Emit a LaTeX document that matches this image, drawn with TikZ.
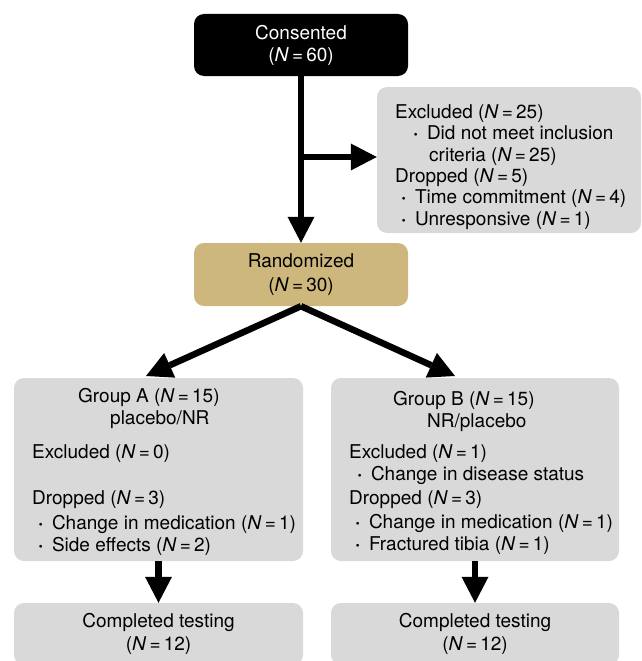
\documentclass[tikz,border=0pt]{standalone}
\usepackage{fontspec}
\setmainfont{TeX Gyre Heros}
\usetikzlibrary{arrows.meta}

\definecolor{boxgray}{HTML}{D9D9D9}
\definecolor{randgold}{HTML}{CDB77C}

\newcommand{\Nv}[1]{(\textit{N}\,=\,#1)}
\newcommand{\bul}{\makebox[5.3pt]{\bfseries\textperiodcentered}\hspace{8.5pt}}

\begin{document}
\begin{tikzpicture}[x=1pt,y=-1pt,
	every node/.style={font=\fontsize{19}{22}\selectfont},
	box/.style={rounded corners=10pt, inner sep=0pt, align=center},
	graybox/.style={box, fill=boxgray},
	txt/.style={align=left, inner sep=0pt, anchor=west},
	arr/.style={line width=6.5pt, -{Triangle[length=26pt,width=27pt,line width=0pt]}}]

	\useasboundingbox (0,0) rectangle (642,661);

	\node[box, fill=black, text=white, minimum width=214pt, minimum height=62pt] (cons) at (301,45) {Consented\\\Nv{60}};
	\node[box, fill=randgold, minimum width=214pt, minimum height=63pt] (rand) at (301,274.5) {Randomized\\[2pt]\Nv{30}};

	\node[graybox, minimum width=264pt, minimum height=146pt] (excl) at (509,160) {};
	\node[txt, font=\fontsize{19}{21.3}\selectfont] (excltxt) at (395,167) {Excluded \Nv{25}\\
		\hspace*{18pt}\bul Did not meet inclusion\\
		\hspace*{34pt}criteria \Nv{25}\\
		Dropped \Nv{5}\\
		\hspace*{6pt}\bul Time commitment \Nv{4}\\
		\hspace*{6pt}\bul Unresponsive \Nv{1}};

	\node[graybox, minimum width=289pt, minimum height=183pt] (grpA) at (158.5,469.5) {};
	\node[txt] (grpAtxt) at (32,472) {\hspace*{46pt}Group A \Nv{15}\\
		\hspace*{78pt}placebo/NR\\[12pt]
		Excluded \Nv{0}\\[24pt]
		Dropped \Nv{3}\\[3pt]
		\hspace*{6pt}\bul Change in medication \Nv{1}\\
		\hspace*{6pt}\bul Side effects \Nv{2}};

	\node[graybox, minimum width=288pt, minimum height=183pt] (grpB) at (475,469.5) {};
	\node[txt] (grpBtxt) at (349,473) {\hspace*{44pt}Group B \Nv{15}\\
		\hspace*{78pt}NR/placebo\\[9pt]
		Excluded \Nv{1}\\
		\hspace*{8pt}\bul Change in disease status\\[2pt]
		Dropped \Nv{3}\\[2pt]
		\hspace*{6pt}\bul Change in medication \Nv{1}\\
		\hspace*{6pt}\bul Fractured tibia \Nv{1}};

	\node[graybox, minimum width=289pt, minimum height=62pt] (compA) at (158.5,634) {Completed testing\\[1pt]\Nv{12}};
	\node[graybox, minimum width=288pt, minimum height=62pt] (compB) at (475,634) {Completed testing\\[1pt]\Nv{12}};

	\coordinate (br) at (301,157);
	\coordinate (tipA) at (146,376);
	\coordinate (tipB) at (455,376);

	\path[arr] (cons) edge (rand);
	\path[arr] (br) edge (br -| excl.west);
	\path[arr] (rand.south) edge (tipA);
	\path[arr] (rand.south) edge (tipB);
	\path[arr] (grpA) edge (compA);
	\path[arr] (grpB) edge (compB);

\end{tikzpicture}
\end{document}
